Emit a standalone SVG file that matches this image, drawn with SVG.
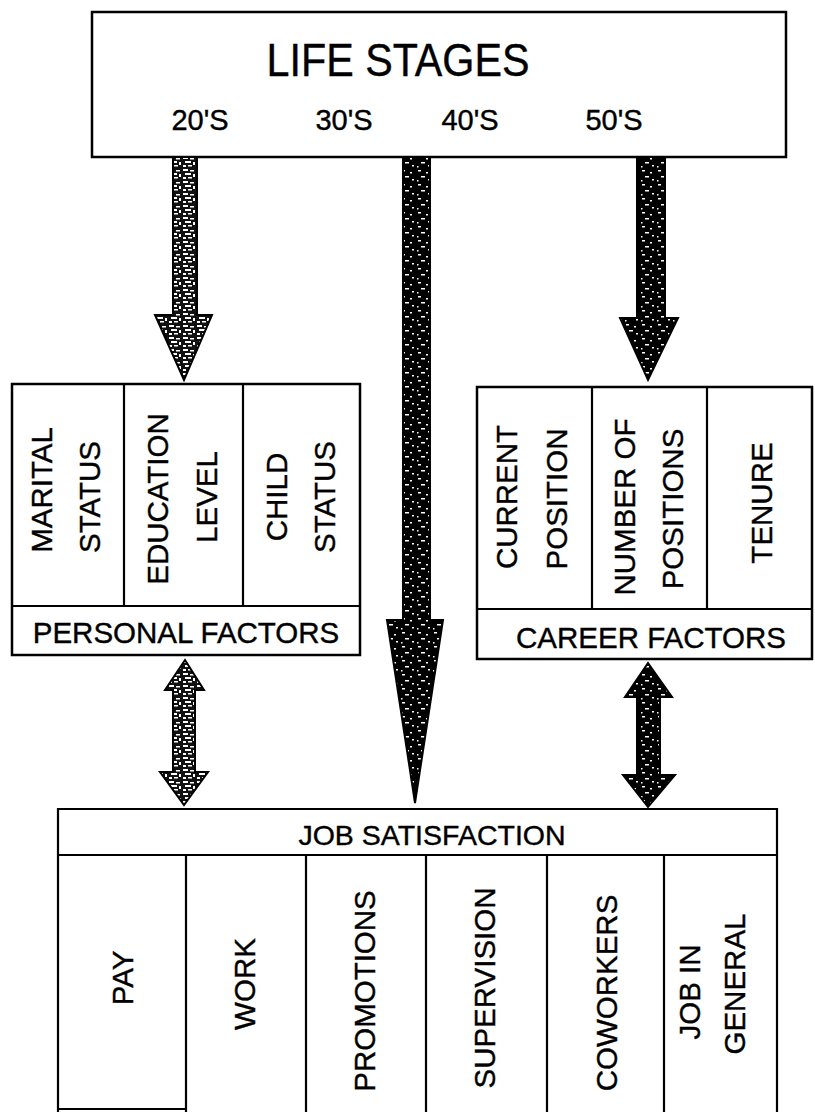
<svg xmlns="http://www.w3.org/2000/svg" width="815" height="1112" viewBox="0 0 815 1112">
<style>
.box{fill:#fff;stroke:#000;stroke-width:2.5}
.ln{stroke:#000;stroke-width:2.2;fill:none}
.t{font-family:"Liberation Sans",Arial,sans-serif;fill:#000;stroke:#000;stroke-width:0.4}
.lab{font-size:29.5px}
.arL{fill:url(#pL);stroke:#000;stroke-width:2}
.arD{fill:url(#pD);stroke:#000;stroke-width:2}
</style>
<defs>
<pattern id="pL" width="14" height="12" patternUnits="userSpaceOnUse">
<rect width="14" height="12" fill="#111"/>
<rect x="1" y="1" width="5" height="2" fill="#fff"/>
<rect x="8" y="2" width="4" height="1.5" fill="#fff"/>
<rect x="3" y="5" width="6" height="2" fill="#fff"/>
<rect x="11" y="6" width="2" height="3" fill="#fff"/>
<rect x="1" y="9" width="3" height="2" fill="#fff"/>
<rect x="6" y="9" width="4" height="1.5" fill="#fff"/>
</pattern>
<pattern id="pD" width="16" height="14" patternUnits="userSpaceOnUse">
<rect width="16" height="14" fill="#000"/>
<rect x="2" y="2" width="3" height="1.5" fill="#fff"/>
<rect x="10" y="4" width="2" height="1.5" fill="#fff"/>
<rect x="5" y="8" width="4" height="1.5" fill="#fff"/>
<rect x="12" y="11" width="2" height="1.5" fill="#fff"/>
<rect x="1" y="12" width="1.5" height="1.5" fill="#fff"/>
</pattern>
</defs>

<g id="life-stages">
<rect class="box" x="92" y="12" width="694" height="145"/>
<text class="t" x="398" y="76" font-size="47" text-anchor="middle" textLength="263" lengthAdjust="spacingAndGlyphs">LIFE STAGES</text>
<text class="t" x="200" y="130" font-size="29" text-anchor="middle">20'S</text>
<text class="t" x="344" y="130" font-size="29" text-anchor="middle">30'S</text>
<text class="t" x="470" y="130" font-size="29" text-anchor="middle">40'S</text>
<text class="t" x="614" y="130" font-size="29" text-anchor="middle">50'S</text>
</g>

<g id="connectors">
<path class="arL" d="M173,157 L197,157 L197,315 L212,315 L184,380 L155,315 L173,315 Z"/>
<path class="arD" d="M403,157 L430,157 L430,620 L443,620 L415,803 L387,620 L403,620 Z"/>
<path class="arD" d="M637,157 L665,157 L665,318 L678,318 L648,380 L620,318 L637,318 Z"/>
<path class="arL" d="M185,660 L204,690 L195,690 L195,772 L208,772 L184,805 L160,772 L173,772 L173,690 L165,690 Z"/>
<path class="arD" d="M648,663 L672,697 L660,697 L660,775 L675,775 L648,807 L623,775 L637,775 L637,697 L625,697 Z"/>
</g>

<g id="personal-factors">
<rect class="box" x="12" y="384" width="348" height="271"/>
<line class="ln" x1="12" y1="606" x2="360" y2="606"/>
<line class="ln" x1="124" y1="384" x2="124" y2="606"/>
<line class="ln" x1="243" y1="384" x2="243" y2="606"/>
<text class="t lab" transform="translate(52,490) rotate(-90)" text-anchor="middle">MARITAL</text>
<text class="t lab" transform="translate(100,497) rotate(-90)" text-anchor="middle">STATUS</text>
<text class="t lab" transform="translate(168,499) rotate(-90)" text-anchor="middle">EDUCATION</text>
<text class="t lab" transform="translate(217,497) rotate(-90)" text-anchor="middle">LEVEL</text>
<text class="t lab" transform="translate(287,497) rotate(-90)" text-anchor="middle">CHILD</text>
<text class="t lab" transform="translate(335,497) rotate(-90)" text-anchor="middle">STATUS</text>
<text class="t lab" x="186" y="643" text-anchor="middle">PERSONAL FACTORS</text>
</g>

<g id="career-factors">
<rect class="box" x="477" y="387" width="335" height="272"/>
<line class="ln" x1="477" y1="609" x2="812" y2="609"/>
<line class="ln" x1="592" y1="387" x2="592" y2="609"/>
<line class="ln" x1="707" y1="387" x2="707" y2="609"/>
<text class="t lab" transform="translate(517,497) rotate(-90)" text-anchor="middle">CURRENT</text>
<text class="t lab" transform="translate(567,499) rotate(-90)" text-anchor="middle">POSITION</text>
<text class="t lab" transform="translate(635,507) rotate(-90)" text-anchor="middle">NUMBER OF</text>
<text class="t lab" transform="translate(683,509) rotate(-90)" text-anchor="middle">POSITIONS</text>
<text class="t lab" transform="translate(772,503) rotate(-90)" text-anchor="middle">TENURE</text>
<text class="t lab" x="651" y="648" text-anchor="middle">CAREER FACTORS</text>
</g>

<g id="job-satisfaction">
<path class="ln" d="M58,1112 L58,809 L777,809 L777,1112"/>
<line class="ln" x1="58" y1="1109" x2="186" y2="1109"/>
<line class="ln" x1="58" y1="855" x2="777" y2="855"/>
<line class="ln" x1="186" y1="855" x2="186" y2="1112"/>
<line class="ln" x1="306" y1="855" x2="306" y2="1112"/>
<line class="ln" x1="426" y1="855" x2="426" y2="1112"/>
<line class="ln" x1="547" y1="855" x2="547" y2="1112"/>
<line class="ln" x1="664" y1="855" x2="664" y2="1112"/>
<text class="t" x="432" y="845" font-size="28.5" text-anchor="middle">JOB SATISFACTION</text>
<text class="t lab" transform="translate(133,978) rotate(-90)" text-anchor="middle">PAY</text>
<text class="t lab" transform="translate(255,984) rotate(-90)" text-anchor="middle">WORK</text>
<text class="t lab" transform="translate(375,991) rotate(-90)" text-anchor="middle">PROMOTIONS</text>
<text class="t lab" transform="translate(495,988) rotate(-90)" text-anchor="middle">SUPERVISION</text>
<text class="t lab" transform="translate(617,993) rotate(-90)" text-anchor="middle">COWORKERS</text>
<text class="t lab" transform="translate(700,992) rotate(-90)" text-anchor="middle">JOB IN</text>
<text class="t lab" transform="translate(745,984) rotate(-90)" text-anchor="middle">GENERAL</text>
</g>
</svg>
